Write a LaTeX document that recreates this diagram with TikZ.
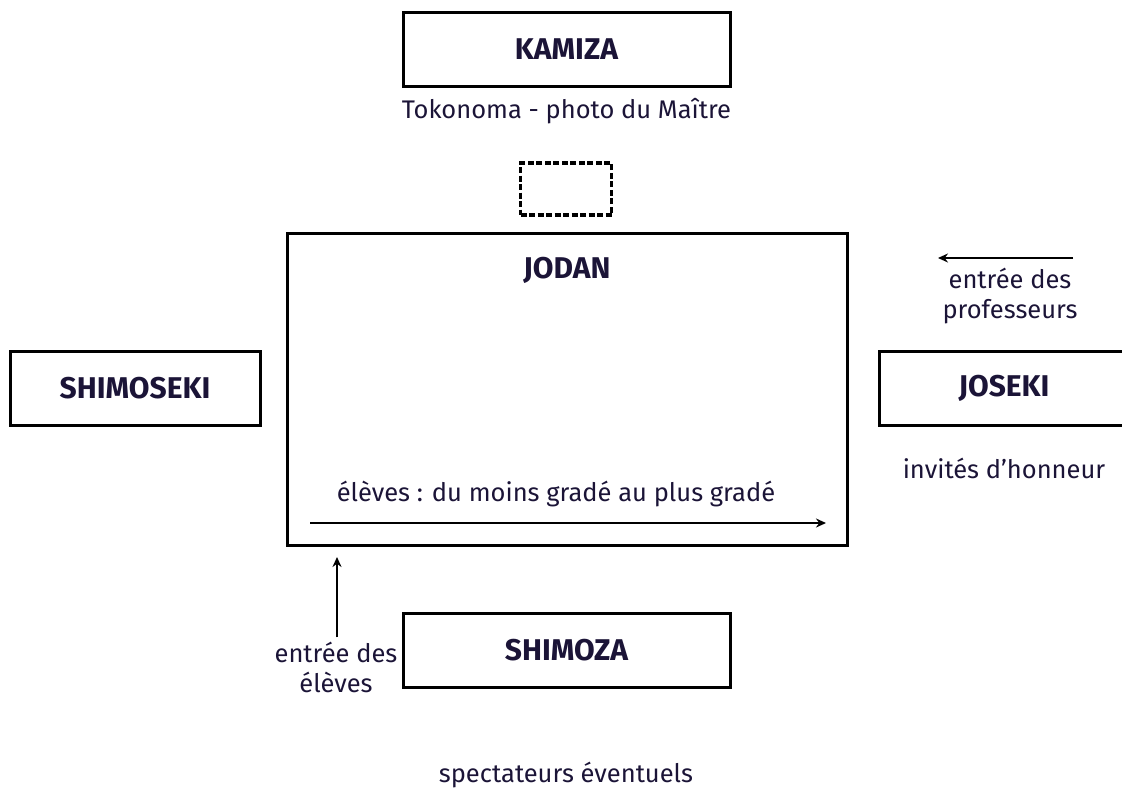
\documentclass[tikz,border=0pt]{standalone}
\usepackage{fontspec}
\setmainfont{Fira Sans}
\usetikzlibrary{positioning,arrows.meta}
\definecolor{ink}{HTML}{1B1437}
\tikzset{
  zone/.style={draw=black, line width=3pt, minimum width=#1, minimum height=74pt, inner sep=0pt, text=ink, font=\fontsize{30}{34}\selectfont\bfseries},
  zone/.default=327pt,
  legend/.style={text=ink, font=\fontsize{25.5}{30}\selectfont, align=center, inner sep=0pt},
  flow/.style={-{Stealth[length=10pt, width=9pt]}, line width=2.5pt}
}
\begin{document}
\begin{tikzpicture}[x=1pt, y=-1pt]
    \useasboundingbox (0,0) rectangle (1122,790);

    % Kamiza and the master's place
    \node[zone] (kamiza) at (566.5,49) {KAMIZA};
    \node[legend] (tokonoma) at (566.5,111) {Tokonoma - photo du Maître};
    \node[draw=black, line width=3.3pt, dash pattern=on 6pt off 2.5pt, minimum width=91pt, minimum height=52pt] (shrine) at (566,189) {};

    % Jodan (the mat)
    \draw[line width=3pt] (287,233) rectangle (847,545);
    \node[legend, font=\fontsize{30}{34}\selectfont\bfseries] (jodan) at (567,270) {JODAN};
    \node[legend] (eleves) at (556,494) {élèves : du moins gradé au plus gradé};
    \coordinate (rangA) at (310,523);
    \coordinate (rangB) at (826,523);
    \draw[flow] (rangA) -- (rangB);

    % Sides
    \node[zone=250pt] (shimoseki) at (135,388) {SHIMOSEKI};
    \node[zone=250pt] (joseki) at (1004,388) {JOSEKI};
    \node[legend] (invites) at (1004,468) {invités d'honneur};
    \node[legend] (profs) at (1010,296) {entrée des\\professeurs};
    \coordinate (profA) at (1073,258);
    \coordinate (profB) at (938,258);
    \draw[flow] (profA) -- (profB);

    % Shimoza
    \node[zone] (shimoza) at (566.5,650) {SHIMOZA};
    \node[legend] (entree) at (336,667) {entrée des\\élèves};
    \coordinate (entreeB) at (337,557);
    \draw[flow] (entree.north -| entreeB) ++(0,-4) -- (entreeB);

    \node[legend] (spectateurs) at (566,775) {spectateurs éventuels};
\end{tikzpicture}
\end{document}
